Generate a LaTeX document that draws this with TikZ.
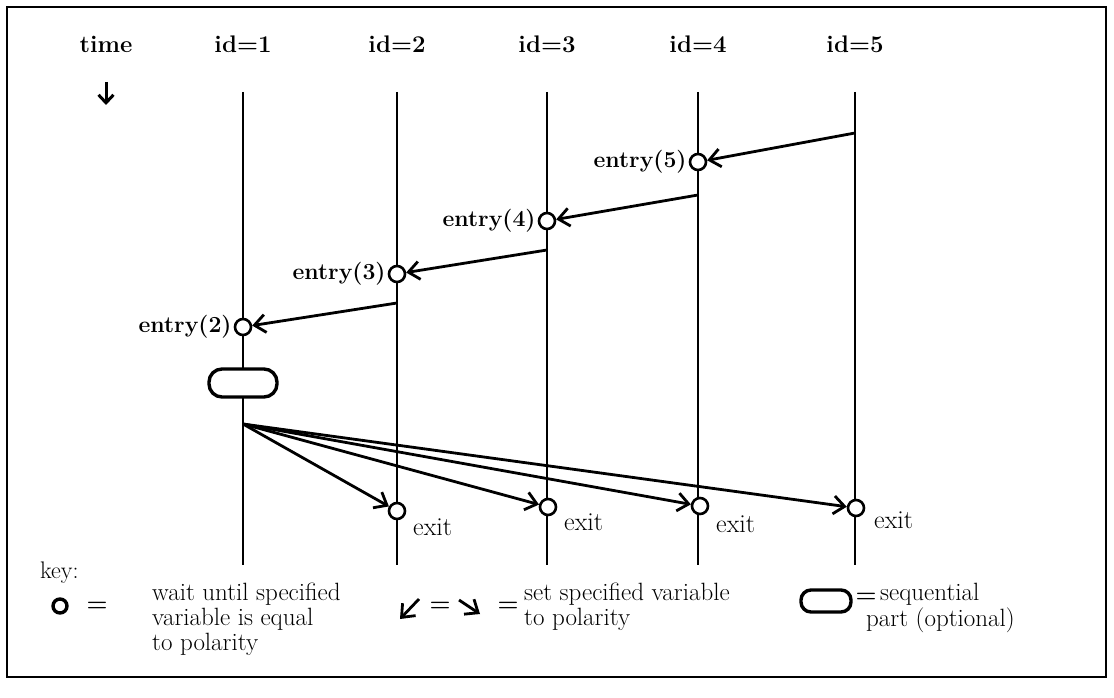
\documentclass[tikz,border=0pt]{standalone}
\usetikzlibrary{arrows.meta,shapes.geometric}
\begin{document}
\begin{tikzpicture}[x=1pt,y=-1pt,
  life/.style={line width=2.6pt},
  waitc/.style={circle,draw,line width=2.6pt,fill=white,minimum size=16pt,inner sep=0pt},
  msg/.style={line width=2.8pt,-{Straight Barb[length=11pt,width=18pt,line width=2.8pt]}},
  lab/.style={font=\fontsize{23}{25}\selectfont\bfseries,inner sep=2pt},
  xlab/.style={font=\fontsize{26}{26}\selectfont,anchor=west,inner sep=0pt},
  hdr/.style={font=\fontsize{24}{26}\selectfont\bfseries},
  keytxt/.style={font=\fontsize{25}{25}\selectfont, align=left, anchor=north west, inner sep=0pt},
  keq/.style={font=\fontsize{24}{24}\selectfont\bfseries,inner sep=0pt},
  seq/.style={rectangle,rounded corners=#1,draw,line width=3.4pt,fill=white,inner sep=0pt},
]
\useasboundingbox (0,0) rectangle (1114,698);
\draw[line width=2pt] (7,7) rectangle (1106,677);

% headers
\node[hdr] (time) at (106,44) {time};
\coordinate (ta) at (106,82);
\coordinate (tb) at (106,105);
\draw[line width=3pt,-{Straight Barb[length=8pt,width=15pt,line width=3pt]}] (ta) -- (tb);
\node[hdr] (h1) at (243,44) {id=1};
\node[hdr] (h2) at (397,44) {id=2};
\node[hdr] (h3) at (547,44) {id=3};
\node[hdr] (h4) at (698,44) {id=4};
\node[hdr] (h5) at (855,44) {id=5};

% lifelines
\foreach \i/\x in {1/243,2/397,3/547,4/698,5/855}{
  \coordinate (t\i) at (\x,92);
  \coordinate (b\i) at (\x,565);
  \draw[life] (t\i) -- (b\i);
}

% entry circles
\node[waitc] (e5) at (698,162) {};
\node[waitc] (e4) at (547,221) {};
\node[waitc] (e3) at (397,274) {};
\node[waitc] (e2) at (243,327) {};
\node[lab,anchor=east] (le5) at (e5.west) {entry(5)};
\node[lab,anchor=east] (le4) at (e4.west) {entry(4)};
\node[lab,anchor=east] (le3) at (e3.west) {entry(3)};
\node[lab,anchor=east] (le2) at (e2.west) {entry(2)};

% entry messages
\coordinate (s5) at (855,133);
\coordinate (s4) at (698,195);
\coordinate (s3) at (547,250);
\coordinate (s2) at (397,303);
\draw[msg] (s5) -- (e5);
\draw[msg] (s4) -- (e4);
\draw[msg] (s3) -- (e3);
\draw[msg] (s2) -- (e2);

% sequential part
\node[seq=13pt,minimum width=68pt,minimum height=28pt] (sp) at (243,383) {};

% exit circles
\node[waitc] (x2) at (397,511) {};
\node[waitc] (x3) at (548,507) {};
\node[waitc] (x4) at (700,506) {};
\node[waitc] (x5) at (856,508) {};
\node[xlab] (lx2) at (413,527) {exit};
\node[xlab] (lx3) at (564,522) {exit};
\node[xlab] (lx4) at (716,524) {exit};
\node[xlab] (lx5) at (874,520) {exit};

\coordinate (f) at (243,424);
\draw[msg] (f) -- (x2);
\draw[msg] (f) -- (x3);
\draw[msg] (f) -- (x4);
\draw[msg] (f) -- (x5);

% key
\node[font=\fontsize{24}{24}\selectfont,anchor=west,inner sep=0pt] (key) at (40,573) {key:};
\node[waitc,line width=3.4pt,minimum size=14pt] (kc) at (60,606) {};
\node[keq] (keq1) at (97,607) {=};
\node[keytxt] (kt1) at (152,583) {wait until specified\\variable is equal\\to polarity};
\coordinate (ka1) at (419,599);
\coordinate (kb1) at (400,619);
\draw[msg] (ka1) -- (kb1);
\node[keq] (keq2) at (440,607) {=};
\coordinate (ka2) at (459,600);
\coordinate (kb2) at (480,614);
\draw[msg] (ka2) -- (kb2);
\node[keq] (keq3) at (508,607) {=};
\node[keytxt] (kt2) at (524,583) {set specified variable\\to polarity};
\node[seq=10pt,minimum width=50pt,minimum height=22pt] (ks) at (826,601) {};
\node[keq] (keq4) at (866,598) {=};
\node[keytxt] (kt3) at (880,583) {sequential};
\node[keytxt] (kt4) at (866,608) {part (optional)};
\end{tikzpicture}
\end{document}
